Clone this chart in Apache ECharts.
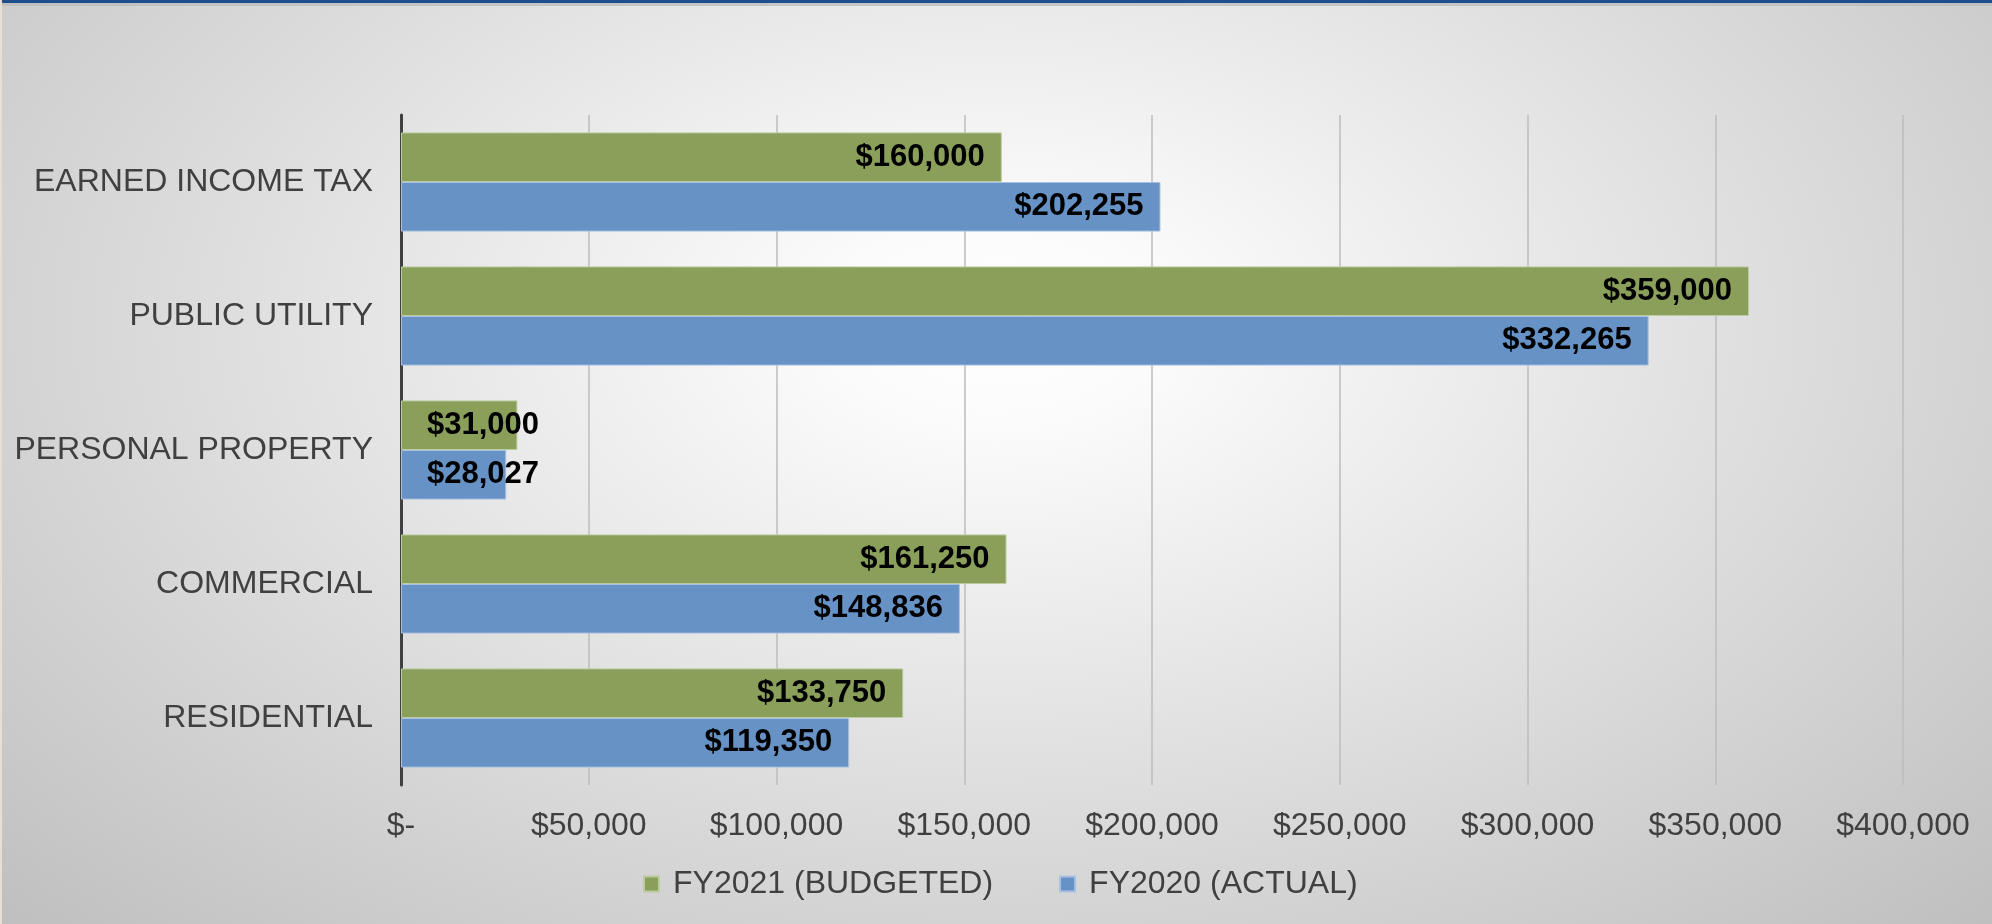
<!DOCTYPE html>
<html>
<head>
<meta charset="utf-8">
<script src="https://cdn.jsdelivr.net/npm/echarts@6/dist/echarts.min.js"></script>
<style>
  html, body { margin: 0; padding: 0; width: 1992px; height: 924px; overflow: hidden; }
  body {
    background: radial-gradient(ellipse farthest-corner at 50% 35%, #ffffff 0%, #fbfbfb 12%, #bfbfbf 100%);
    position: relative;
  }
  #topbar { position: absolute; left: 0; top: 0; width: 1992px; height: 3px; background: #1f4e8c; z-index: 2; }
  #topshade { position: absolute; left: 0; top: 3px; width: 1992px; height: 3px; background: #bdbdbd; opacity: 0.8; z-index: 2; }
  #leftedge { position: absolute; left: 0; top: 0; width: 2px; height: 924px; background: #e6e0d2; z-index: 2; }
  #chart { position: absolute; left: 0; top: 0; width: 1992px; height: 924px; }
</style>
</head>
<body>
<div id="topbar"></div>
<div id="topshade"></div>
<div id="leftedge"></div>
<div id="chart"></div>
<script>
// Categories listed bottom to top (ECharts category y-axis starts at the bottom)
const categories = ['RESIDENTIAL', 'COMMERCIAL', 'PERSONAL PROPERTY', 'PUBLIC UTILITY', 'EARNED INCOME TAX'];
const budgeted2021 = [133750, 161250, 31000, 359000, 160000];
const actual2020 = [119350, 148836, 28027, 332265, 202255];
const seriesNames = ['FY2021 (BUDGETED)', 'FY2020 (ACTUAL)'];
const xTicks = { min: 0, max: 400000, interval: 50000 };

const FONT = '"Liberation Sans", Arial, sans-serif';
const fmtMoney = v => v === 0 ? '$-' : '$' + v.toLocaleString('en-US');

function buildData(values) {
  return values.map(v => {
    const short = v < 60000;
    return {
      value: v,
      label: short ? { position: 'insideLeft', distance: 26 } : { position: 'insideRight', distance: 17 }
    };
  });
}

const labelStyle = {
  show: true,
  formatter: p => fmtMoney(p.value),
  color: '#000000',
  fontFamily: FONT,
  fontWeight: 'bold',
  fontSize: 31
};

const chart = echarts.init(document.getElementById('chart'), null, { renderer: 'canvas' });
chart.setOption({
  backgroundColor: 'transparent',
  animation: false,
  grid: { left: 401, right: 89, top: 115, bottom: 139, containLabel: false },
  legend: {
    data: seriesNames,
    left: 643,
    top: 868,
    padding: 0,
    itemWidth: 15,
    itemHeight: 15,
    itemGap: 66,
    icon: 'rect',
    textStyle: { fontFamily: FONT, fontSize: 32, color: '#404040', padding: [0, 0, 0, 9] }
  },
  xAxis: {
    type: 'value',
    min: xTicks.min,
    max: xTicks.max,
    interval: xTicks.interval,
    axisLine: { show: false },
    axisTick: { show: false },
    splitLine: { show: true, lineStyle: { color: '#bdbdbd', width: 1.5 } },
    axisLabel: { formatter: fmtMoney, fontFamily: FONT, fontSize: 32, color: '#404040', margin: 25 }
  },
  yAxis: {
    type: 'category',
    data: categories,
    axisLine: { show: true, lineStyle: { color: '#404040', width: 3 } },
    axisTick: { show: false },
    splitLine: { show: false },
    axisLabel: { fontFamily: FONT, fontSize: 32, color: '#404040', margin: 28 }
  },
  series: [
    {
      name: seriesNames[0],
      type: 'bar',
      data: buildData(budgeted2021),
      barGap: '0%',
      barCategoryGap: '26%',
      itemStyle: { color: '#8a9f5a', borderColor: '#bccba0', borderWidth: 1 },
      label: labelStyle,
      z: 3
    },
    {
      name: seriesNames[1],
      type: 'bar',
      data: buildData(actual2020),
      barGap: '0%',
      barCategoryGap: '26%',
      itemStyle: { color: '#6692c6', borderColor: '#a9c1e0', borderWidth: 1 },
      label: labelStyle,
      z: 3
    }
  ]
});
</script>
</body>
</html>
